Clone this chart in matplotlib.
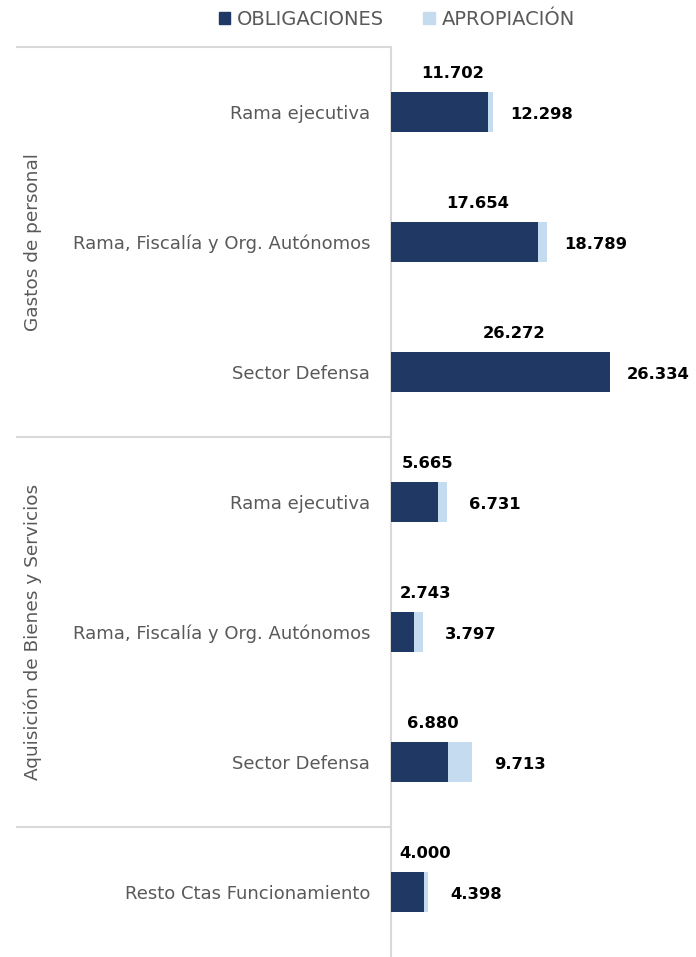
import matplotlib

matplotlib.use("Agg")
import matplotlib.pyplot as plt
import matplotlib.patches as mpatches
import matplotlib.transforms as mtransforms
import numpy as np

plt.rcParams["font.family"] = ["DejaVu Sans"]

# data (billones de pesos)
categories = [
    "Rama ejecutiva",
    "Rama, Fiscalía y Org. Autónomos",
    "Sector Defensa",
    "Rama ejecutiva",
    "Rama, Fiscalía y Org. Autónomos",
    "Sector Defensa",
    "Resto Ctas Funcionamiento",
]
obligaciones = [11.702, 17.654, 26.272, 5.665, 2.743, 6.880, 4.000]
apropiacion = [12.298, 18.789, 26.334, 6.731, 3.797, 9.713, 4.398]
groups = ["Gastos de personal", "Aquisición de Bienes y Servicios", ""]
group_sizes = [3, 3, 1]

_DARK = "#203864"
_LIGHT = "#c5dcf0"
_GRID = "#d9d9d9"
_TXT = "#595959"

fig = plt.figure(figsize=(6.96, 9.57), dpi=100)
ax = fig.add_axes([391 / 696, 0.0, 1 - 391 / 696, 1 - 47 / 957])

y = np.arange(len(categories))
ax.barh(y, apropiacion, height=0.31, color=_LIGHT, zorder=2)
ax.barh(y, obligaciones, height=0.31, color=_DARK, zorder=3)

def _fmt(v):
    return f"{v:,.3f}".replace(",", "")

for yi, o, a in zip(y, obligaciones, apropiacion):
    ax.text(max(o / 2 + 1.6, 4.1), yi - 0.3, _fmt(o), ha="center", va="center",
            fontsize=11.8, fontweight="bold", color="black")
    ax.text(a + 5.8, yi + 0.02, _fmt(a), ha="center", va="center",
            fontsize=11.8, fontweight="bold", color="black")

ax.set_ylim(len(categories) - 0.5, -0.5)
ax.set_xlim(0, 305 / 8.32)
ax.set_yticks(y)
ax.set_yticklabels(categories, fontsize=13, color=_TXT)
ax.tick_params(axis="y", length=0, pad=15)
ax.set_xticks([])
for s in ("top", "right", "bottom"):
    ax.spines[s].set_visible(False)
ax.spines["left"].set_color(_GRID)
ax.spines["left"].set_linewidth(1.5)

# group separators and labels
trans = mtransforms.blended_transform_factory(fig.transFigure, ax.transData)
x0, x1 = 17 / 696, 391 / 696
start = -0.5
ax.plot([x0, x1], [start, start], color=_GRID, lw=1.5, transform=trans, clip_on=False)
for name, n in zip(groups, group_sizes):
    end = start + n
    if end < len(categories) - 0.5:
        ax.plot([x0, x1], [end, end], color=_GRID, lw=1.5, transform=trans,
                clip_on=False)
    if name:
        ax.text(33 / 696, (start + end) / 2, name, rotation=90, ha="center",
                va="center", fontsize=13.3, color=_TXT, transform=trans)
    start = end

handles = [mpatches.Patch(color=_DARK, label="OBLIGACIONES"),
           mpatches.Patch(color=_LIGHT, label="APROPIACIÓN")]
fig.legend(handles=handles, loc="upper center", bbox_to_anchor=(0.570, 1.008),
           ncol=2, frameon=False, fontsize=14, handlelength=0.6,
           handleheight=0.6, handletextpad=0.35, columnspacing=2.0,
           labelcolor=_TXT)

fig.savefig("out.png", dpi=100, facecolor="white")
